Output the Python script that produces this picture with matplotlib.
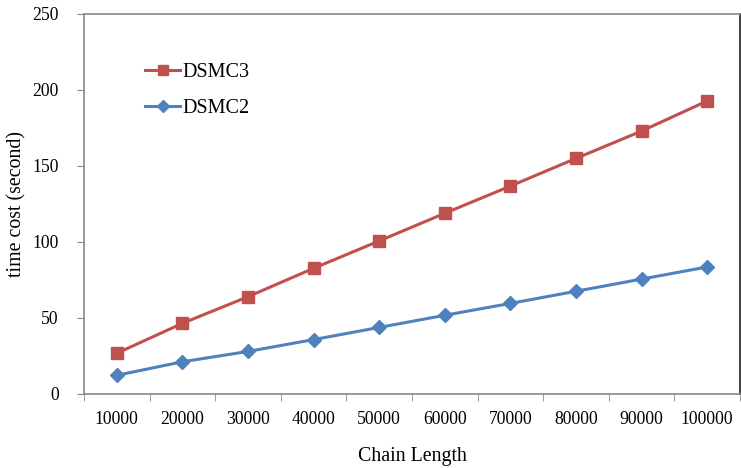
import matplotlib
matplotlib.use("Agg")
import matplotlib.pyplot as plt
import numpy as np

categories = ["10000", "20000", "30000", "40000", "50000", "60000", "70000", "80000", "90000", "100000"]
dsmc3 = [26.8, 46.5, 64.0, 82.7, 100.7, 118.9, 136.8, 155.0, 173.0, 192.8]
dsmc2 = [12.3, 21.2, 28.0, 35.8, 43.8, 51.8, 59.6, 67.6, 75.6, 83.6]
yticks = [0, 50, 100, 150, 200, 250]

plt.rcParams['font.family'] = ['Liberation Serif', 'DejaVu Serif']

fig = plt.figure(figsize=(7.41, 4.68), dpi=100)
ax = fig.add_axes([84/741, 1 - 394/468, 656/741, 380/468])

x = np.arange(len(categories))
ax.plot(x, dsmc3, color='#C0504D', lw=2.2, marker='s', ms=9.3, label='DSMC3')
ax.plot(x, dsmc2, color='#4F81BD', lw=2.2, marker='D', ms=7.5, label='DSMC2')

ax.set_xlim(-0.5, len(categories) - 0.5)
ax.set_ylim(0, 250)
ax.set_yticks(yticks)
ax.set_xticks(x)
ax.set_xticklabels(categories)
ax.set_xticks(np.arange(-0.5, len(categories), 1), minor=True)
ax.tick_params(axis='x', which='major', length=0, labelsize=12.7, pad=12)
ax.tick_params(axis='x', which='minor', length=5, color='#888888', direction='out')
ax.tick_params(axis='y', length=5, color='#888888', direction='out', labelsize=12.7, pad=13)

for s in ['top', 'left', 'bottom']:
    ax.spines[s].set_color('#888888')
    ax.spines[s].set_linewidth(1.2)
ax.spines['right'].set_color('#222222')
ax.spines['right'].set_linewidth(1.2)

ax.set_xlabel('Chain Length', fontsize=14.3, labelpad=14)
ax.set_ylabel('time cost (second)', fontsize=14.3, labelpad=4)

ax.legend(loc='upper left', bbox_to_anchor=(0.093, 0.87), frameon=False, fontsize=14.5,
          handlelength=1.75, handletextpad=0.1, labelspacing=0.8,
          borderpad=0, borderaxespad=0, markerscale=0.8)

fig.savefig('out.png', dpi=100)
